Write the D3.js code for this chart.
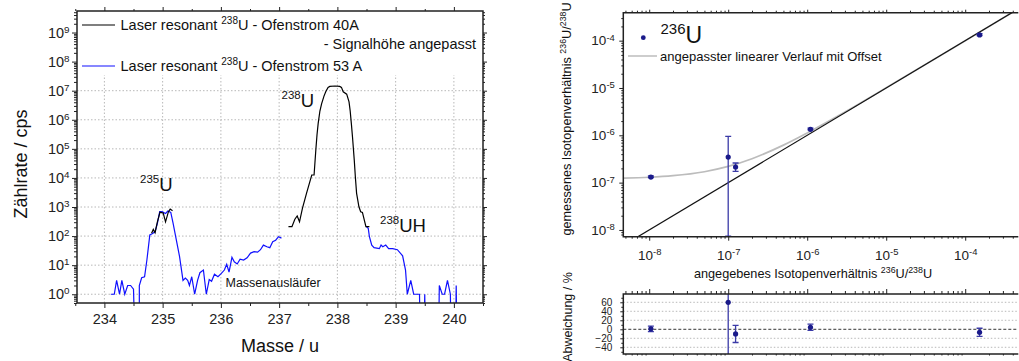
<!DOCTYPE html>
<html>
<head>
<meta charset="utf-8">
<script src="https://cdn.jsdelivr.net/npm/d3@7"></script>
<style>
html, body { margin: 0; padding: 0; background: #fff; }
svg { display: block; font-family: Arial, "Liberation Sans", sans-serif; }
</style>
</head>
<body>
<svg id="chart" width="1019" height="361"></svg>
<script>
// ---------- Mass spectrum (left panel): [mass / u, count rate / cps] ----------
// 0 marks an empty channel (drawn down to below the axis)
const blue53A_low = [
  [234.11,1],[234.17,1],[234.21,3],[234.26,1],[234.30,3],[234.35,1],[234.40,2],[234.45,2],
  [234.50,1.5],[234.52,0],[234.60,0],[234.60,2],[234.64,3.7],[234.69,4],[234.73,15],[234.78,110],
  [234.82,120],[234.87,140],[234.91,275],[234.95,690],[234.99,690],[235.05,600],[235.09,730],
  [235.14,650],[235.18,275],[235.23,84],[235.29,20],[235.35,3],[235.39,3.6],[235.43,3],[235.46,2],
  [235.50,4],[235.55,1],[235.60,3],[235.64,5.5],[235.70,6.8],[235.75,1],[235.80,3.2],[235.84,2.8],
  [235.89,4.9],[235.95,4],[236.00,5],[236.06,6.8],[236.10,10.7],[236.14,5.8],[236.19,18.6],
  [236.23,13],[236.28,11],[236.33,16],[236.39,15],[236.45,18],[236.51,26],[236.57,29],[236.63,28],
  [236.68,34],[236.73,49],[236.79,43],[236.84,40],[236.89,64],[236.94,72],[236.99,95],[237.04,85]
];
const blue53A_high = [
  [238.50,210],[238.53,185],[238.55,95],[238.59,49],[238.63,40],[238.72,37],[238.75,49],[238.78,43],
  [238.83,49],[238.88,37],[238.95,37],[239.03,34],[239.12,21],[239.17,6.8],[239.20,1],[239.26,3],
  [239.31,1],[239.41,1],[239.42,0],[239.49,0],[239.50,1],[239.51,0],[239.74,0],[239.75,2],
  [239.80,1],[239.84,1],[239.89,3],[239.94,1],[239.95,0],[240.03,0],[240.04,2],[240.05,0]
];
const black40A_235 = [
  [234.81,125],[234.84,170],[234.87,131],[234.91,310],[234.955,660],[235.01,620],
  [235.05,310],[235.10,690],[235.13,850],[235.17,750]
];
const black40A_238 = [
  [237.16,210],[237.22,210],[237.27,380],[237.31,490],[237.35,310],[237.40,900],[237.47,2950],
  [237.56,12600],[237.60,12600],[237.63,91000],[237.65,3.0e5],[237.67,7.4e5],[237.70,2.0e6],
  [237.73,3.6e6],[237.77,6.5e6],[237.80,9.2e6],[237.84,1.3e7],[237.87,1.4e7],[237.96,1.45e7],
  [238.04,1.4e7],[238.07,1.3e7],[238.10,9.2e6],[238.16,7.6e6],[238.20,4.1e6],[238.22,2.0e6],
  [238.24,7.4e5],[238.26,2.5e5],[238.29,4.1e4],[238.31,1.0e4],[238.33,2950],[238.37,1020],
  [238.40,690],[238.43,650],[238.49,210],[238.55,210]
];
const massTicks = [234, 235, 236, 237, 238, 239, 240];
const countDecades = [0, 1, 2, 3, 4, 5, 6, 7, 8, 9];

// ---------- Isotope ratio 236U/238U (right panels) ----------
const givenRatio     = [1.05e-8, 1.0e-7, 1.24e-7, 1.1e-6, 1.52e-4];
const measuredRatio  = [1.31e-7, 3.47e-7, 2.14e-7, 1.34e-6, 1.32e-4];
const measuredErr    = [0.07e-7, 6.0e-7, 0.46e-7, 0.08e-6, 0.08e-4];
const deviationPct   = [1, 60, -10.4, 4.4, -6.7];
const deviationErr   = [6, 200, 19, 7, 9];
// fitted line with offset, sampled along the given ratio
const fitGiven       = [4.7e-9, 1e-8, 2e-8, 5e-8, 1e-7, 2e-7, 5e-7, 1e-6, 3e-6, 1e-5, 1e-4, 4.7e-4];
const fitMeasured    = [1.25e-7, 1.3e-7, 1.4e-7, 1.7e-7, 2.2e-7, 3.2e-7, 6.2e-7, 1.12e-6, 3.1e-6, 1.01e-5, 1.0e-4, 4.7e-4];
// identity (measured = given)
const identityGiven  = [4.7e-9, 4.7e-4];
const ratioDecades   = [-8, -7, -6, -5, -4];
const deviationTicks = [-40, -20, 0, 20, 40, 60];

// ====================================================================
const svg = d3.select("#chart");
const ink = "#222";
const fontFamily = 'Arial, "Liberation Sans", sans-serif';

function minorLogValues(lo, hi) {
  const out = [];
  for (let e = Math.floor(Math.log10(lo)); e <= Math.ceil(Math.log10(hi)); e++) {
    for (let k = 2; k < 10; k++) {
      const v = k * Math.pow(10, e);
      if (v >= lo && v <= hi) out.push(v);
    }
  }
  return out;
}
// turn axis labels into 10 with a superscript exponent
function powerLabels(g, supScale) {
  g.selectAll(".tick text").each(function (d) {
    const t = d3.select(this);
    t.text(null);
    t.append("tspan").text("10");
    t.append("tspan").attr("dy", "-0.5em").attr("font-size", supScale + "em")
      .text(Math.round(Math.log10(d)));
  });
}
function styleAxis(g, size) {
  g.attr("font-family", fontFamily).attr("font-size", size || 10);
  g.select(".domain").remove();
  g.selectAll(".tick line").attr("stroke", ink);
  g.selectAll(".tick text").attr("fill", ink);
  return g;
}
// superscript isotope label: mass number followed by element symbol
function isotope(g, x, y, mass, sym, supSize, symSize, rise) {
  const t = g.append("text").attr("x", x).attr("y", y).attr("fill", "#111");
  t.append("tspan").attr("dy", -rise).attr("font-size", supSize).text(mass);
  t.append("tspan").attr("dy", rise).attr("font-size", symSize).text(sym);
  return t;
}

// ==================== Left panel: mass spectrum ====================
const L = { x0: 77, x1: 483, y0: 11, y1: 303 };
const xM = d3.scaleLinear().domain([233.53, 240.5]).range([L.x0, L.x1]);
const yC = d3.scaleLog().domain([0.5, 5.5e9]).range([L.y1, L.y0]);
const left = svg.append("g");
const defs = svg.append("defs");

defs.append("clipPath").attr("id", "clipL")
  .append("rect").attr("x", L.x0).attr("y", L.y0).attr("width", L.x1 - L.x0).attr("height", L.y1 - L.y0);

// grid
const grid = left.append("g").attr("stroke", "#b8b8b8").attr("stroke-dasharray", "1.5,2").attr("stroke-width", 1);
grid.selectAll("line.v").data(massTicks).join("line").attr("class", "v")
  .attr("x1", d => xM(d)).attr("x2", d => xM(d)).attr("y1", L.y1).attr("y2", 75);
grid.selectAll("line.h").data(countDecades.filter(e => e <= 7)).join("line").attr("class", "h")
  .attr("x1", L.x0).attr("x2", L.x1).attr("y1", e => yC(Math.pow(10, e))).attr("y2", e => yC(Math.pow(10, e)));

// spectra
const lineM = d3.line().x(d => xM(d[0])).y(d => yC(Math.max(d[1], 0.05)));
const plotL = left.append("g").attr("clip-path", "url(#clipL)").attr("fill", "none");
[blue53A_low, blue53A_high].forEach(s =>
  plotL.append("path").attr("d", lineM(s)).attr("stroke", "#1010ff").attr("stroke-width", 1.2));
[black40A_235, black40A_238].forEach(s =>
  plotL.append("path").attr("d", lineM(s)).attr("stroke", "#000").attr("stroke-width", 1.2));

// axes
const gYL = left.append("g").attr("transform", `translate(${L.x0},0)`)
  .call(d3.axisLeft(yC).tickValues(countDecades.map(e => Math.pow(10, e))).tickSize(5).tickPadding(2.5).tickSizeOuter(0));
powerLabels(gYL, 0.68); styleAxis(gYL, 14.5);
styleAxis(left.append("g").attr("transform", `translate(${L.x0},0)`)
  .call(d3.axisLeft(yC).tickValues(minorLogValues(0.5, 5.5e9)).tickSize(3).tickFormat("")));
styleAxis(left.append("g").attr("transform", `translate(${L.x1},0)`)
  .call(d3.axisRight(yC).tickValues(countDecades.map(e => Math.pow(10, e))).tickSize(4).tickFormat("")));
styleAxis(left.append("g").attr("transform", `translate(${L.x1},0)`)
  .call(d3.axisRight(yC).tickValues(minorLogValues(0.5, 5.5e9)).tickSize(2).tickFormat("")));
styleAxis(left.append("g").attr("transform", `translate(0,${L.y1})`)
  .call(d3.axisBottom(xM).tickValues(massTicks).tickSize(5).tickPadding(5.5).tickFormat(d3.format("d"))), 14.5);
styleAxis(left.append("g").attr("transform", `translate(0,${L.y1})`)
  .call(d3.axisBottom(xM).tickValues(massTicks.map(m => m - 0.5).concat([240.4999])).tickSize(3).tickFormat("")));
styleAxis(left.append("g").attr("transform", `translate(0,${L.y0})`)
  .call(d3.axisTop(xM).tickValues(massTicks).tickSize(4).tickFormat("")));
styleAxis(left.append("g").attr("transform", `translate(0,${L.y0})`)
  .call(d3.axisTop(xM).tickValues(massTicks.map(m => m - 0.5)).tickSize(2).tickFormat("")));

// legend area
left.append("rect").attr("x", L.x0 + 1).attr("y", L.y0 + 1).attr("width", L.x1 - L.x0 - 2).attr("height", 62).attr("fill", "#fff");
left.append("rect").attr("x", L.x0).attr("y", L.y0).attr("width", L.x1 - L.x0).attr("height", L.y1 - L.y0)
  .attr("fill", "none").attr("stroke", ink).attr("stroke-width", 1.5);

const leg = left.append("g").attr("font-size", 14.5).attr("fill", "#111");
leg.append("line").attr("x1", 82).attr("x2", 115).attr("y1", 25).attr("y2", 25).attr("stroke", "#000").attr("stroke-width", 1.2);
leg.append("line").attr("x1", 82).attr("x2", 115).attr("y1", 66).attr("y2", 66).attr("stroke", "#1010ff").attr("stroke-width", 1.2);
function legendText(y, tail) {
  const t = leg.append("text").attr("x", 120.5).attr("y", y);
  t.append("tspan").text("Laser resonant ");
  t.append("tspan").attr("dy", -6).attr("font-size", 10).text("238");
  t.append("tspan").attr("dy", 6).text("U - " + tail);
}
legendText(30, "Ofenstrom 40A");
leg.append("text").attr("x", 476).attr("y", 49).attr("text-anchor", "end").text("- Signalhöhe angepasst");
legendText(71, "Ofenstrom 53 A");

// peak annotations
isotope(left, 140, 190.5, "235", "U", 11.5, 18.5, 8);
isotope(left, 281.5, 106.5, "238", "U", 11.5, 18.5, 8);
isotope(left, 380, 231.5, "238", "UH", 11.5, 18.5, 8);
left.append("text").attr("x", 225.5).attr("y", 287).attr("font-size", 12.5).attr("fill", "#111").text("Massenausläufer");

// titles
left.append("text").attr("transform", "translate(27,164) rotate(-90)").attr("text-anchor", "middle")
  .attr("font-size", 18).attr("fill", "#111").text("Zählrate / cps");
left.append("text").attr("x", 280).attr("y", 352).attr("text-anchor", "middle")
  .attr("font-size", 18).attr("fill", "#111").text("Masse / u");

// ==================== Right panels: isotope ratio ====================
const R = { x0: 623.3, x1: 1018.3, y0: 12.7, y1: 236.7 };
const D = { y0: 294, y1: 354 };
const xR = d3.scaleLog().domain([4.7e-9, 4.7e-4]).range([R.x0, R.x1]);
const yR = d3.scaleLog().domain([7.2e-9, 3.9e-4]).range([R.y1, R.y0]);
const yD = d3.scaleLinear().domain([-54.9, 78.4]).range([D.y1, D.y0]);
const right = svg.append("g");
defs.append("clipPath").attr("id", "clipR")
  .append("rect").attr("x", R.x0).attr("y", R.y0).attr("width", R.x1 - R.x0).attr("height", R.y1 - R.y0);
defs.append("clipPath").attr("id", "clipD")
  .append("rect").attr("x", R.x0).attr("y", D.y0).attr("width", R.x1 - R.x0).attr("height", D.y1 - D.y0);

const markColor = "#1a1a8a";
const barColor = "#3a3aa6";
const decadeValues = ratioDecades.map(e => Math.pow(10, e));
const xMinor = minorLogValues(4.7e-9, 4.7e-4);

// --- upper panel ---
const plotR = right.append("g").attr("clip-path", "url(#clipR)");
plotR.append("path").attr("fill", "none").attr("stroke", "#bcbcbc").attr("stroke-width", 1.7)
  .attr("d", d3.line().x(d => xR(d)).y((d, i) => yR(fitMeasured[i])).curve(d3.curveMonotoneX)(fitGiven));
plotR.append("path").attr("fill", "none").attr("stroke", "#111").attr("stroke-width", 1.2)
  .attr("d", d3.line().x(d => xR(d)).y(d => yR(d))(identityGiven));

const yLo = yR.domain()[0];
const errR = plotR.append("g").attr("stroke", barColor).attr("stroke-width", 1.3);
givenRatio.forEach((g, i) => {
  const hi = measuredRatio[i] + measuredErr[i];
  const lo = Math.max(measuredRatio[i] - measuredErr[i], yLo);
  const x = xR(g);
  errR.append("line").attr("x1", x).attr("x2", x).attr("y1", yR(hi)).attr("y2", yR(lo));
  errR.append("line").attr("x1", x - 3).attr("x2", x + 3).attr("y1", yR(hi)).attr("y2", yR(hi));
  errR.append("line").attr("x1", x - 3).attr("x2", x + 3).attr("y1", yR(lo) - 0.6).attr("y2", yR(lo) - 0.6);
});
plotR.append("g").selectAll("circle").data(givenRatio).join("circle")
  .attr("cx", d => xR(d)).attr("cy", (d, i) => yR(measuredRatio[i])).attr("r", 2.6).attr("fill", markColor);

const gRY = right.append("g").attr("transform", `translate(${R.x0},0)`)
  .call(d3.axisLeft(yR).tickValues(decadeValues).tickSize(4).tickPadding(4.5));
powerLabels(gRY, 0.7); styleAxis(gRY, 13.5);
styleAxis(right.append("g").attr("transform", `translate(${R.x0},0)`)
  .call(d3.axisLeft(yR).tickValues(minorLogValues(7.2e-9, 3.9e-4)).tickSize(2).tickFormat("")));
const gRX = right.append("g").attr("transform", `translate(0,${R.y1})`)
  .call(d3.axisBottom(xR).tickValues(decadeValues).tickSize(4).tickPadding(9.5));
powerLabels(gRX, 0.7); styleAxis(gRX, 13.5);
styleAxis(right.append("g").attr("transform", `translate(0,${R.y1})`)
  .call(d3.axisBottom(xR).tickValues(xMinor).tickSize(2).tickFormat("")));
styleAxis(right.append("g").attr("transform", `translate(0,${R.y0})`)
  .call(d3.axisTop(xR).tickValues(decadeValues).tickSize(3).tickFormat("")));
styleAxis(right.append("g").attr("transform", `translate(0,${R.y0})`)
  .call(d3.axisTop(xR).tickValues(xMinor).tickSize(2).tickFormat("")));
right.append("path").attr("fill", "none").attr("stroke", ink).attr("stroke-width", 1.5)
  .attr("d", `M${R.x1},${R.y0}H${R.x0}V${R.y1}H${R.x1}`);

// legend
right.append("circle").attr("cx", 643.3).attr("cy", 37.7).attr("r", 2.4).attr("fill", markColor);
isotope(right, 660.5, 42.7, "236", "U", 15, 23, 9);
right.append("line").attr("x1", 628).attr("x2", 657).attr("y1", 56).attr("y2", 56).attr("stroke", "#bcbcbc").attr("stroke-width", 1.5);
right.append("text").attr("x", 660).attr("y", 60.5).attr("font-size", 13).attr("fill", "#111")
  .text("angepasster linearer Verlauf mit Offset");

// ratio label: text 236U/238U with superscript mass numbers
function ratioTitle(t, lead) {
  t.append("tspan").text(lead);
  t.append("tspan").attr("dy", -5).attr("font-size", 8.8).text("236");
  t.append("tspan").attr("dy", 5).text("U/");
  t.append("tspan").attr("dy", -5).attr("font-size", 8.8).text("238");
  t.append("tspan").attr("dy", 5).text("U");
}
ratioTitle(right.append("text").attr("x", 813).attr("y", 277.5).attr("text-anchor", "middle")
  .attr("font-size", 12.7).attr("fill", "#111"), "angegebenes Isotopenverhältnis ");
ratioTitle(right.append("text").attr("transform", "translate(570.5,119) rotate(-90)")
  .attr("text-anchor", "middle").attr("font-size", 12.7).attr("fill", "#111"), "gemessenes Isotopenverhältnis ");

// --- lower panel: deviation ---
right.append("g").selectAll("line").data(deviationTicks).join("line")
  .attr("x1", R.x0).attr("x2", R.x1).attr("y1", d => yD(d)).attr("y2", d => yD(d))
  .attr("stroke", d => d === 0 ? "#333" : "#b8b8b8")
  .attr("stroke-dasharray", d => d === 0 ? "3,2" : "1.5,2")
  .attr("stroke-width", 1);

const plotD = right.append("g").attr("clip-path", "url(#clipD)");
const errD = plotD.append("g").attr("stroke", barColor).attr("stroke-width", 1.3);
givenRatio.forEach((g, i) => {
  const x = xR(g);
  const hi = deviationPct[i] + deviationErr[i], lo = deviationPct[i] - deviationErr[i];
  errD.append("line").attr("x1", x).attr("x2", x).attr("y1", yD(hi)).attr("y2", yD(lo));
  errD.append("line").attr("x1", x - 3).attr("x2", x + 3).attr("y1", yD(hi)).attr("y2", yD(hi));
  errD.append("line").attr("x1", x - 3).attr("x2", x + 3).attr("y1", yD(lo)).attr("y2", yD(lo));
});
plotD.append("g").selectAll("circle").data(givenRatio).join("circle")
  .attr("cx", d => xR(d)).attr("cy", (d, i) => yD(deviationPct[i])).attr("r", 2.6).attr("fill", markColor);

styleAxis(right.append("g").attr("transform", `translate(${R.x0},0)`)
  .call(d3.axisLeft(yD).tickValues(deviationTicks).tickSize(3).tickPadding(8)), 10);
styleAxis(right.append("g").attr("transform", `translate(${R.x0},0)`)
  .call(d3.axisLeft(yD).tickValues([-50, -30, -10, 10, 30, 50, 70]).tickSize(2).tickFormat("")));
styleAxis(right.append("g").attr("transform", `translate(0,${D.y0})`)
  .call(d3.axisTop(xR).tickValues(decadeValues).tickSize(5).tickFormat("")));
styleAxis(right.append("g").attr("transform", `translate(0,${D.y0})`)
  .call(d3.axisTop(xR).tickValues(xMinor).tickSize(3).tickFormat("")));
styleAxis(right.append("g").attr("transform", `translate(0,${D.y1})`)
  .call(d3.axisBottom(xR).tickValues(xMinor).tickSize(1.5).tickFormat("")));
right.append("path").attr("fill", "none").attr("stroke", ink).attr("stroke-width", 1.5)
  .attr("d", `M${R.x1},${D.y0}H${R.x0}V${D.y1}H${R.x1}`);

right.append("text").attr("transform", "translate(571.5,317) rotate(-90)").attr("text-anchor", "middle")
  .attr("font-size", 12.5).attr("fill", "#111").text("Abweichung / %");
</script>
</body>
</html>
